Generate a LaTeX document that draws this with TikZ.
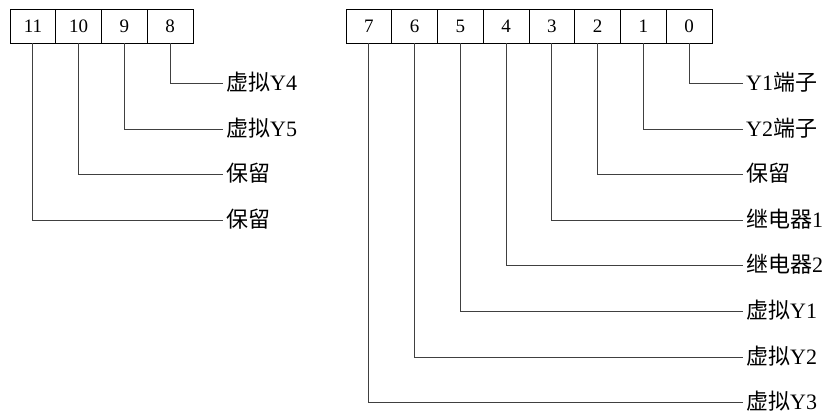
\documentclass[tikz,border=0pt]{standalone}
\usepackage{fontspec}
\setmainfont{Liberation Serif}
\newfontfamily\cjk{Noto Sans CJK SC}
\usepackage{tikz}

\tikzset{
  bitbox/.style={draw, line width=0.8pt, minimum width=45.75pt, minimum height=34pt,
    inner sep=0pt, font=\fontsize{19}{19}\selectfont},
  lbl/.style={anchor=west, inner xsep=3pt, inner ysep=0pt, text height=16pt, text depth=2pt,
    font=\fontsize{22}{22}\selectfont},
  wire/.style={line width=0.85pt, black!75}
}

\begin{document}
\begin{tikzpicture}[x=1pt,y=-1pt]
\useasboundingbox (0,0) rectangle (835,413);
% high bits
\node[name=bit_11, bitbox] at (32.9,26) {11};
\node[name=bit_10, bitbox] at (78.6,26) {10};
\node[name=bit_9, bitbox] at (124.4,26) {9};
\node[name=bit_8, bitbox] at (170.1,26) {8};
% low bits
\node[name=bit_7, bitbox] at (368.9,26) {7};
\node[name=bit_6, bitbox] at (414.6,26) {6};
\node[name=bit_5, bitbox] at (460.4,26) {5};
\node[name=bit_4, bitbox] at (506.1,26) {4};
\node[name=bit_3, bitbox] at (551.9,26) {3};
\node[name=bit_2, bitbox] at (597.6,26) {2};
\node[name=bit_1, bitbox] at (643.4,26) {1};
\node[name=bit_0, bitbox] at (689.1,26) {0};

\node[name=lab_8, lbl] at (223,83) {{\cjk 虚拟}Y4};
\node[name=lab_9, lbl] at (223,129) {{\cjk 虚拟}Y5};
\node[name=lab_10, lbl] at (223,174) {{\cjk 保留}};
\node[name=lab_11, lbl] at (223,220) {{\cjk 保留}};

\node[name=lab_0, lbl] at (743,83) {Y1{\cjk 端子}};
\node[name=lab_1, lbl] at (743,129) {Y2{\cjk 端子}};
\node[name=lab_2, lbl] at (743,174) {{\cjk 保留}};
\node[name=lab_3, lbl] at (743,220) {{\cjk 继电器}1};
\node[name=lab_4, lbl] at (743,265) {{\cjk 继电器}2};
\node[name=lab_5, lbl] at (743,311) {{\cjk 虚拟}Y1};
\node[name=lab_6, lbl] at (743,357) {{\cjk 虚拟}Y2};
\node[name=lab_7, lbl] at (743,402) {{\cjk 虚拟}Y3};

\draw[wire] (bit_8.south) |- (lab_8.west);
\draw[wire] (bit_9.south) |- (lab_9.west);
\draw[wire] (bit_10.south) |- (lab_10.west);
\draw[wire] (bit_11.south) |- (lab_11.west);
\draw[wire] (bit_0.south) |- (lab_0.west);
\draw[wire] (bit_1.south) |- (lab_1.west);
\draw[wire] (bit_2.south) |- (lab_2.west);
\draw[wire] (bit_3.south) |- (lab_3.west);
\draw[wire] (bit_4.south) |- (lab_4.west);
\draw[wire] (bit_5.south) |- (lab_5.west);
\draw[wire] (bit_6.south) |- (lab_6.west);
\draw[wire] (bit_7.south) |- (lab_7.west);
\end{tikzpicture}
\end{document}
